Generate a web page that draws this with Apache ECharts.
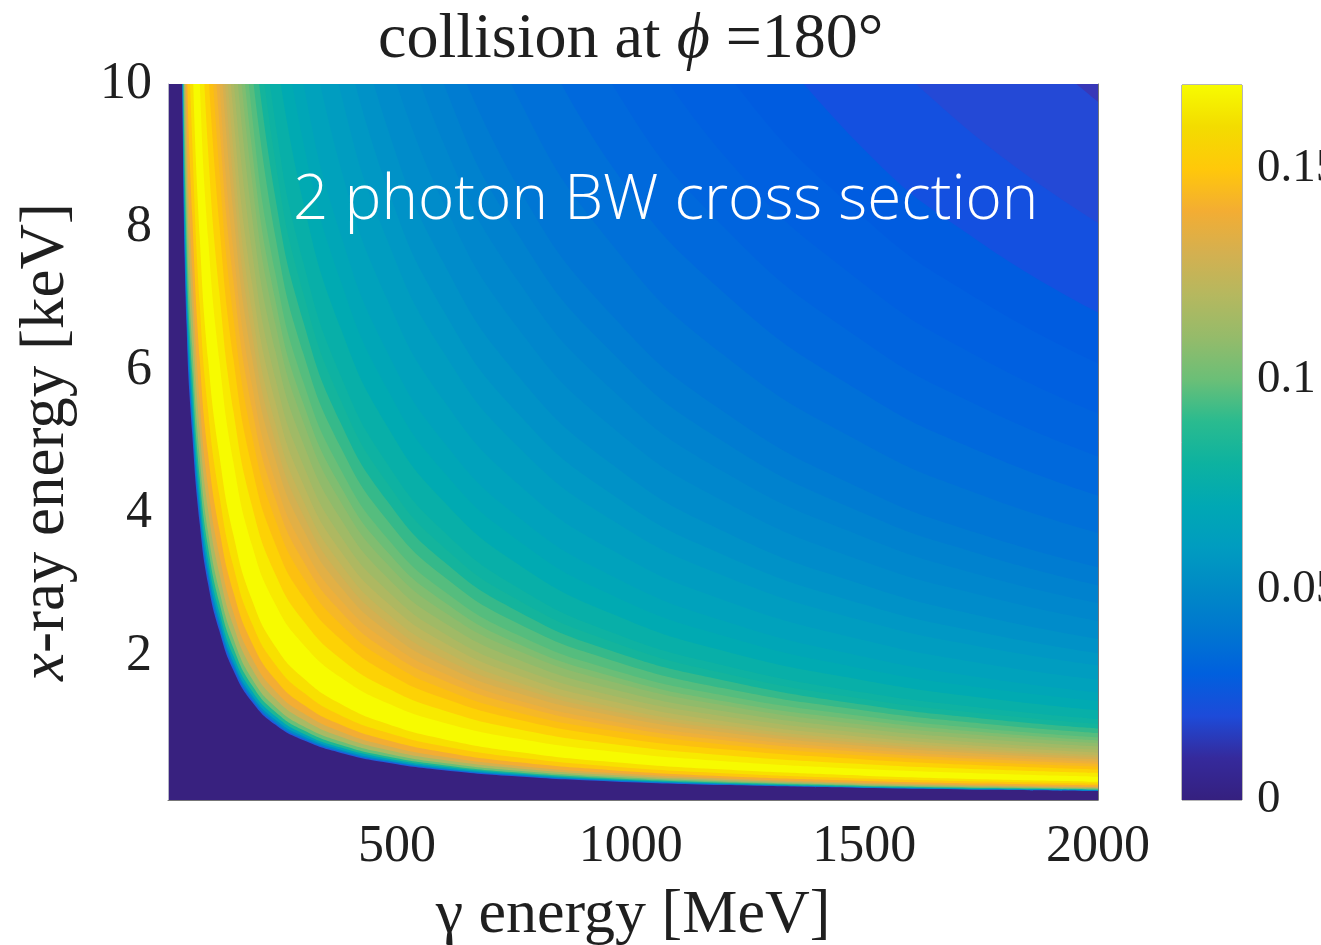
<!DOCTYPE html>
<html lang="en">
<head>
    <meta charset="UTF-8">
    <title>collision at 180</title>
    <script src="https://cdn.jsdelivr.net/npm/echarts@6/dist/echarts.min.js"></script>
    <style>
        html, body { margin: 0; padding: 0; background: #fff; }
        #main { filter: blur(0.6px); }
    </style>
</head>
<body>
<div id="main" style="width: 1321px;height:945px;"></div>

<script type="text/javascript">
    var gammaEnergy = [25, 32, 40, 50, 62, 78, 96, 120, 150, 190, 240, 300, 380, 480, 600, 760, 960, 1200, 1500, 1750, 2000];

    // filled contours, outermost first: x-ray energy [keV] along each one.
    // each list lines up with the END of gammaEnergy, it starts just above the top of the plot
    var contourColors = [
        '#1d5fdc', '#0089c6', '#00a2ba', '#1db794', '#6bbf77', '#a8ba64', '#d4b050', '#f3ad33', '#fdc80c', '#f8e000', '#f7fb00',
        '#f8ea00', '#fdd205', '#fcc010', '#f6b826', '#eeb03a', '#e2b045', '#d4b050', '#c8b456', '#bcb75c', '#aeb861', '#a0ba66',
        '#90bb6b', '#80bd70', '#6bbe77', '#55bd7e', '#35b98a', '#14b49c', '#0eb2a2', '#08afa8', '#00aab2', '#00a6b7', '#00a2bc',
        '#009dc0', '#0098c4', '#0092c7', '#008cca', '#0087cc', '#0082ce', '#007cd1', '#0076d4', '#0070d8', '#0069dc', '#0064de',
        '#0060e0', '#005ce0', '#1450e0', '#2449d6', '#3838b8'
    ];
    var contourKeV = [
        [25, 13.9, 10, 6.58, 5.10, 3.85, 3.01, 2.36, 1.81, 1.37, 1.05, .833, .658, .521, .417, .329, .260, .208, .167, .143, .125],
        [25.8, 14.3, 10.3, 6.79, 5.27, 3.97, 3.11, 2.43, 1.87, 1.41, 1.08, .860, .679, .538, .430, .339, .269, .215, .172, .147, .129],
        [26.7, 14.8, 10.7, 7.03, 5.45, 4.11, 3.22, 2.52, 1.93, 1.46, 1.12, .890, .703, .556, .445, .351, .278, .223, .178, .153, .134],
        [27.8, 15.4, 11.1, 7.32, 5.67, 4.28, 3.35, 2.62, 2.01, 1.52, 1.17, .927, .732, .579, .463, .366, .290, .232, .185, .159, .139],
        [29.2, 16.2, 11.7, 7.68, 5.96, 4.49, 3.52, 2.75, 2.12, 1.60, 1.23, .973, .768, .608, .487, .384, .304, .243, .195, .167, .146],
        [31, 17.2, 12.4, 8.16, 6.33, 4.77, 3.73, 2.92, 2.25, 1.69, 1.30, 1.03, .816, .646, .517, .408, .323, .258, .207, .177, .155],
        [33.5, 18.6, 13.4, 8.82, 6.84, 5.15, 4.04, 3.16, 2.43, 1.83, 1.41, 1.12, .882, .698, .558, .441, .349, .279, .223, .191, .168],
        [36.2, 20.1, 14.5, 9.53, 7.39, 5.57, 4.36, 3.42, 2.62, 1.98, 1.52, 1.21, .953, .754, .603, .476, .377, .302, .241, .207, .181],
        [40, 22.2, 16, 10.5, 8.16, 6.15, 4.82, 3.77, 2.90, 2.19, 1.68, 1.33, 1.05, .833, .667, .526, .417, .333, .267, .229, .200],
        [45, 25, 18, 11.8, 9.18, 6.92, 5.42, 4.25, 3.26, 2.46, 1.89, 1.50, 1.18, .938, .750, .592, .469, .375, .300, .257, .225],
        [51, 28.3, 20.4, 13.4, 10.4, 7.85, 6.14, 4.81, 3.70, 2.79, 2.14, 1.70, 1.34, 1.06, .850, .671, .531, .425, .340, .291, .255],
        [13.3, 10, 7.83, 6.13, 4.71, 3.55, 2.73, 2.17, 1.71, 1.35, 1.08, .855, .677, .542, .433, .371, .325],
        [11.5, 9.04, 7.08, 5.43, 4.10, 3.15, 2.50, 1.97, 1.56, 1.25, .987, .781, .625, .5, .429, .375],
        [10.2, 8.02, 6.16, 4.64, 3.57, 2.83, 2.24, 1.77, 1.42, 1.12, .885, .708, .567, .486, .425],
        [11.2, 8.77, 6.74, 5.08, 3.91, 3.10, 2.45, 1.94, 1.55, 1.22, .969, .775, .62, .531, .465],
        [12.0, 9.43, 7.25, 5.46, 4.20, 3.33, 2.63, 2.08, 1.67, 1.32, 1.04, .833, .667, .571, .5],
        [12.8, 10, 7.68, 5.79, 4.45, 3.53, 2.79, 2.21, 1.77, 1.39, 1.10, .883, .707, .606, .53],
        [10.7, 8.19, 6.17, 4.75, 3.77, 2.97, 2.35, 1.88, 1.49, 1.18, .942, .753, .646, .565],
        [11.2, 8.62, 6.50, 5.0, 3.97, 3.13, 2.48, 1.98, 1.57, 1.24, .992, .793, .68, .595],
        [11.8, 9.06, 6.83, 5.25, 4.17, 3.29, 2.60, 2.08, 1.64, 1.30, 1.04, .833, .714, .625],
        [12.5, 9.57, 7.21, 5.55, 4.4, 3.47, 2.75, 2.2, 1.74, 1.38, 1.10, .88, .754, .66],
        [10.1, 7.65, 5.88, 4.67, 3.68, 2.92, 2.33, 1.84, 1.46, 1.17, .933, .80, .70],
        [10.8, 8.14, 6.26, 4.97, 3.92, 3.10, 2.48, 1.96, 1.55, 1.24, .993, .851, .745],
        [11.4, 8.63, 6.64, 5.27, 4.16, 3.29, 2.63, 2.08, 1.65, 1.32, 1.05, .903, .79],
        [12.0, 9.07, 6.97, 5.53, 4.37, 3.46, 2.77, 2.18, 1.73, 1.38, 1.11, .949, .83],
        [12.7, 9.56, 7.35, 5.83, 4.61, 3.65, 2.92, 2.30, 1.82, 1.46, 1.17, 1.0, .875],
        [10.2, 7.86, 6.23, 4.92, 3.90, 3.12, 2.46, 1.95, 1.56, 1.25, 1.07, .935],
        [10.9, 8.40, 6.67, 5.26, 4.17, 3.33, 2.63, 2.08, 1.67, 1.33, 1.14, 1.0],
        [11.6, 8.91, 7.07, 5.58, 4.42, 3.53, 2.79, 2.21, 1.77, 1.41, 1.21, 1.06],
        [12.3, 9.45, 7.5, 5.92, 4.69, 3.75, 2.96, 2.34, 1.88, 1.5, 1.29, 1.13],
        [10.5, 8.33, 6.58, 5.21, 4.17, 3.29, 2.60, 2.08, 1.67, 1.43, 1.25],
        [11.6, 9.17, 7.24, 5.73, 4.58, 3.62, 2.86, 2.29, 1.83, 1.57, 1.38],
        [12.6, 10, 7.89, 6.25, 5, 3.95, 3.13, 2.5, 2, 1.71, 1.5],
        [11.2, 8.82, 6.98, 5.58, 4.41, 3.49, 2.79, 2.23, 1.91, 1.68],
        [12.5, 9.87, 7.81, 6.25, 4.93, 3.91, 3.13, 2.5, 2.14, 1.88],
        [10.8, 8.54, 6.83, 5.39, 4.27, 3.42, 2.73, 2.34, 2.05],
        [11.8, 9.38, 7.5, 5.92, 4.69, 3.75, 3, 2.57, 2.25],
        [10.4, 8.33, 6.58, 5.21, 4.17, 3.33, 2.86, 2.5],
        [11.5, 9.17, 7.24, 5.73, 4.58, 3.67, 3.14, 2.75],
        [12.5, 10, 7.89, 6.25, 5, 4, 3.43, 3],
        [10.8, 8.55, 6.77, 5.42, 4.33, 3.71, 3.25],
        [12.4, 9.80, 7.76, 6.21, 4.97, 4.26, 3.73],
        [11.2, 8.85, 7.08, 5.67, 4.86, 4.25],
        [12.6, 10, 8, 6.4, 5.49, 4.8],
        [11.3, 9, 7.2, 6.17, 5.4],
        [12.7, 10.2, 8.13, 6.97, 6.1],
        [11.4, 9.08, 7.78, 6.81],
        [10.7, 9.21, 8.06],
        [11.1, 9.75]
    ];

    // colour bar
    var barMax = 0.17;
    var barValues = [0, .01, .02, .03, .04, .05, .06, .07, .08, .09, .10, .11, .12, .13, .14, .15, .16, .17];
    var barColors = ['#35207f', '#352a9c', '#1d4bd9', '#0060de', '#0076d0', '#0089c6', '#009cc0', '#00a8b4', '#0db2a0',
        '#2abb8f', '#6bbf77', '#95bb6a', '#b5b85f', '#d4b050', '#f3ad33', '#ffc80a', '#f3dc00', '#f7fb00'];

    var xTicks = [500, 1000, 1500, 2000];
    var yTicks = [2, 4, 6, 8, 10];
    var barTicks = [0, 0.05, 0.1, 0.15];

    var serif = '"Liberation Serif", "DejaVu Serif", serif';
    var inkColor = '#1f1f1f';

    var series = contourKeV.map(function (ys, i) {
        var xs = gammaEnergy.slice(gammaEnergy.length - ys.length);
        return {
            type: 'line',
            xAxisIndex: 0,
            yAxisIndex: 0,
            data: ys.map(function (y, j) { return [xs[j], y]; }),
            showSymbol: false,
            smooth: 0.5,
            lineStyle: { width: 0 },
            areaStyle: { origin: 'end', color: contourColors[i], opacity: 1 },
            silent: true,
            animation: false
        };
    });

    series.push({
        type: 'bar',
        xAxisIndex: 1,
        yAxisIndex: 2,
        data: [barMax],
        barWidth: '100%',
        silent: true,
        animation: false,
        itemStyle: {
            color: new echarts.graphic.LinearGradient(0, 1, 0, 0, barValues.map(function (v, i) {
                return { offset: v / barMax, color: barColors[i] };
            }))
        }
    });

    var myChart = echarts.init(document.getElementById('main'));

    myChart.setOption({
        animation: false,
        title: {
            text: 'collision at {p|\u03D5} =180°',
            left: 373,
            top: 3,
            textStyle: {
                fontFamily: serif,
                fontSize: 64,
                fontWeight: 'normal',
                color: inkColor,
                rich: { p: { fontFamily: serif, fontSize: 64, fontStyle: 'italic', color: inkColor } }
            }
        },
        grid: [
            { left: 168, top: 84, width: 930, height: 716, outerBoundsMode: 'none', show: true, backgroundColor: '#38217f', borderWidth: 0 },
            { left: 1182, top: 85, width: 60, height: 715, outerBoundsMode: 'none', show: true, borderColor: '#6e6e6e', borderWidth: 1 }
        ],
        xAxis: [{
            gridIndex: 0,
            type: 'value',
            min: 10,
            max: 2000,
            name: 'γ energy [MeV]',
            nameLocation: 'middle',
            nameGap: 85,
            nameTextStyle: { fontFamily: serif, fontSize: 62, color: inkColor },
            splitLine: { show: false },
            axisLine: { show: true, onZero: false, lineStyle: { color: '#777', width: 1 } },
            axisTick: { show: false },
            axisLabel: {
                customValues: xTicks,
                formatter: function (v) { return String(v); },
                fontFamily: serif,
                fontSize: 52,
                color: inkColor,
                margin: 21
            }
        }, {
            gridIndex: 1,
            type: 'category',
            data: [''],
            axisLine: { show: false },
            axisTick: { show: false },
            axisLabel: { show: false }
        }],
        yAxis: [{
            gridIndex: 0,
            type: 'value',
            min: 0,
            max: 10,
            name: '{i|x}-ray energy [keV]',
            nameLocation: 'middle',
            nameRotate: 90,
            nameGap: 90,
            nameTextStyle: {
                fontFamily: serif,
                fontSize: 63,
                color: inkColor,
                rich: { i: { fontFamily: serif, fontSize: 63, fontStyle: 'italic', color: inkColor } }
            },
            splitLine: { show: false },
            axisLine: { show: true, onZero: false, lineStyle: { color: '#b5b5c5', width: 1 } },
            axisTick: { show: false },
            axisLabel: {
                customValues: yTicks,
                fontFamily: serif,
                fontSize: 52,
                color: inkColor,
                margin: 16
            }
        }, {
            // only draws the right edge of the plot box
            gridIndex: 0,
            type: 'value',
            position: 'right',
            min: 0,
            max: 10,
            splitLine: { show: false },
            axisLine: { show: true, onZero: false, lineStyle: { color: '#777', width: 1 } },
            axisTick: { show: false },
            axisLabel: { show: false }
        }, {
            gridIndex: 1,
            type: 'value',
            position: 'right',
            min: 0,
            max: barMax,
            splitLine: { show: false },
            axisLine: { show: false },
            axisTick: {
                show: true,
                inside: true,
                length: 7,
                customValues: [0.05, 0.1, 0.15],
                lineStyle: { color: '#444', width: 1 }
            },
            axisLabel: {
                customValues: barTicks,
                fontFamily: serif,
                fontSize: 47,
                color: inkColor,
                margin: 15,
                align: 'left'
            }
        }],
        graphic: [{
            type: 'text',
            left: 293,
            top: 170,
            z: 100,
            silent: true,
            style: {
                text: '2 photon BW cross section',
                fill: '#ffffff',
                font: '300 62px "Open Sans", "Noto Sans", sans-serif'
            }
        }],
        series: series
    });
</script>

</body>
</html>
